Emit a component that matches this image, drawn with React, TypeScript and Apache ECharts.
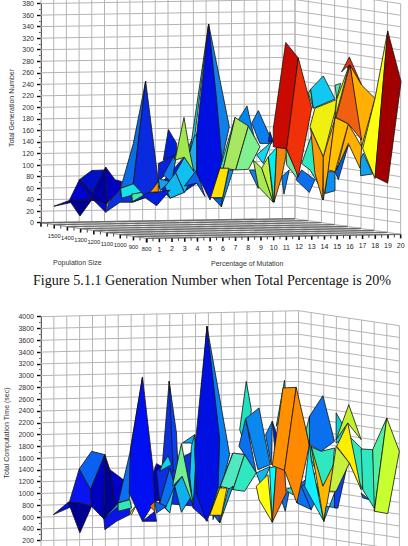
import React, { useEffect, useRef } from "react";
import * as echarts from "echarts";

// Tick labels
const generationTicks = [0, 380, 20];
const timeTicks = [200, 4000, 200];
const populationLabels = ["1500", "1400", "1300", "1200", "1100", "1000", "900", "800"];
const mutationLabels = ["1", "2", "3", "4", "5", "6", "7", "8", "9", "10", "11", "12", "13", "14", "15", "16", "17", "18", "19", "20"];

// Surface facets: [position along the mutation scale, value, ...]
const generationFacets: number[][] = [
  [9.24,59,11.29,111,12.26,65,11.26,50,10.16,39],
  [16.22,199,15.54,175,16.98,128,16.59,163],
  [17.11,191,16.59,169,17.24,134,18.16,134,18.03,146],
  [18.03,154,17.9,137,18.29,137],
  [21.05,221,21.44,195,21.23,228],
  [21.23,228,22.23,251,23.15,211,21.44,195],
  [23.15,235,23.6,238,23.28,212],
  [24.28,284,23.67,258,24.07,267,25.25,235],
  [1.02,25,2.23,35,3.02,71,3.99,36,3.07,35],
  [3.02,71,3.99,87,5.09,88,4.12,49],
  [3.02,71,4.12,49,3.99,36],
  [2.23,35,3.07,8,3.99,36],
  [4.12,49,5.09,93,5.17,29,3.99,36],
  [5.09,93,5.83,71,6.35,68,6.22,53,5.17,29],
  [3.99,36,5.17,29,5.12,14,4.12,36],
  [5.17,16,5.3,30,6.27,56,6.35,39,7.14,46,7.14,32,6.22,32],
  [10.03,158,9.63,105,10.68,114,10.68,134],
  [9.24,99,10.55,114,10.55,105,9.89,82,9.24,68],
  [9.63,79,10.42,111,10.6,105,10.29,66],
  [9.24,73,10.16,68,9.37,52],
  [11.86,140,12.26,151,12.26,82,11.29,111],
  [11.26,179,10.55,105,11.29,110,12.2,68,11.73,117],
  [11.29,110,10.6,83,11.29,49,12.13,82],
  [9.76,59,10.6,83,11.29,49,10.16,39],
  [11.29,60,12.26,65,12.91,42,12.26,88],
  [8.24,242,7.27,134,6.27,56,7.27,64],
  [8.24,242,7.27,64,8.19,40,9.24,68],
  [6.27,56,7.27,64,7.93,49,6.35,39],
  [7.14,46,7.93,49,8.19,40,7.22,32],
  [7.14,32,8.19,40,9.11,26,10.16,53,9.24,50,8.45,49],
  [8.58,49,9.24,68,9.24,50],
  [13.2,341,12.13,151,11.73,120],
  [13.2,341,14.83,163,13.57,39],
  [13.2,341,12.26,151,12.26,82,13.31,36,14.3,91,13.83,209],
  [16.4,88,17.11,56,17.24,88],
  [15.28,179,13.44,42,14.09,91,14.36,91],
  [15.28,179,14.36,91,15.33,88,16.33,164],
  [16.33,164,15.33,88,16.33,89,17.24,128],
  [13.57,39,14.3,40,14.2,24],
  [14.3,40,14.78,88,15.14,88,14.2,24],
  [13.36,40,14.09,91,14.78,91,14.3,40],
  [18.95,76,19.13,46,19.55,88],
  [16.72,105,17.38,91,18.29,32,17.11,59],
  [17.38,91,17.9,111,18.29,32],
  [16.98,114,18.16,137,17.5,99],
  [18.16,139,19.34,125,18.56,127],
  [17.9,111,18.56,127,18.35,32],
  [18.56,127,19.4,125,18.95,76,18.35,32],
  [19.29,125,20.13,85,20.26,71,19.34,97],
  [20.08,71,21.13,49,21.57,71,20.52,88],
  [20.52,99,21.39,154,22.23,49,21.18,88],
  [19.27,309,18.29,160,18.29,128,19.4,125,20.26,282],
  [20.26,282,19.34,125,20.26,76,21.31,195],
  [22.36,47,22.57,85,23.15,85,23.15,52],
  [23.15,85,24.2,131,23.41,71],
  [21.23,160,22.23,111,22.18,36,21.57,82],
  [22.23,111,23.15,177,22.62,88,22.23,36],
  [21.18,163,21.57,195,23.28,210,23.15,189,22.23,111],
  [25.12,105,25.17,78,26.12,81,25.38,117],
  [23.28,88,24.2,168,25.25,128,25.12,91,24.2,134],
  [22.62,88,23.15,179,24.2,168,23.15,85],
  [24.28,270,23.15,177,23.28,210],
  [24.33,270,25.25,235,26.3,212,25.25,128],
  [24.33,270,23.23,179,24.2,168,25.25,140],
  [27.3,329,26.3,212,25.33,125,26.3,73],
  [27.3,329,26.3,76,27.3,65,28.35,241],
];
const generationShades = [
  "#0a20e0",
  "#0088f0","#0a80f0","#0a20d0","#60e8a0","#10c8f0","#50e8a8","#e03010",
  "#0000d0","#0010c8","#0000b8","#000090","#0000a0","#0000c0","#0008d8","#0a30e0",
  "#0020d8","#0a20e0","#1080e8","#10a0f0","#20a8f0","#a0e850","#10c0f0","#10b8f0","#1060e8",
  "#0a6ce8","#0a2ae0","#18e0e8","#40e8b0","#0020e0","#f09010",
  "#20d0e0","#1080e8","#0010e0",
  "#1080e8","#40e8b0","#a8e860","#80f090","#0060e0","#0a90f0","#ffe000",
  "#0a80f0","#a8e850","#c0f040","#10d8f0","#50e8b0","#00f0f0","#f08810","#70e8a0",
  "#0a70f0","#30e8c0","#c80a00","#f03008",
  "#0a90f0","#0060e0","#ff9a00","#ffb000","#f0f010",
  "#10a0f0","#ffb000","#ffc000","#f0f010","#ffb000","#f06010","#ffff10","#a00000",
];

const timeFacets: number[][] = [
  [8.97,1342,12.07,1710,12.07,748,9.22,805],
  [19.87,1088,21.24,1314,20.98,692,19.87,805],
  [23.95,1936,24.99,1710,24.99,1031,23.95,1484],
  [15.94,2869,15.43,2049,16.07,1625,16.33,2388],
  [15.89,2236,15.37,1766,15.81,1625,16.72,1314],
  [15.89,2236,16.93,2417,17.8,1455,16.85,1370],
  [17.96,2190,17.44,1964,17.88,1455],
  [17.96,2190,18.27,1992,18.27,1484],
  [18.91,2886,18.27,2106,19.04,2445],
  [0.96,607,2.12,816,3.02,805],
  [2.12,816,3.02,296,3.93,748,3.02,805],
  [2.2,816,2.97,1382,3.85,1031,3.93,748,3.02,805],
  [2.97,1382,3.93,1681,4.96,1625,3.85,1031],
  [3.93,748,3.85,1031,4.96,1625,4.88,533],
  [4.96,1625,5.35,1370,6.12,805,4.88,533],
  [5.35,1370,6.38,1201,6.25,805,5.74,805],
  [4.88,533,5.99,805,5.99,664],
  [4.88,533,5.87,720,6.9,748,6.9,607,5.87,494,4.96,352],
  [8.71,1314,8.97,1472,9.35,1427,9.48,861,8.84,833],
  [9.95,2869,9.41,1427,8.97,1342,9.22,805,10.26,1370,10.65,1427],
  [9.95,2869,10.52,1992,10.65,1314,10.26,1370],
  [9.41,1455,9.87,1608,10.13,1455,9.22,1342],
  [9.22,805,10,1399,10.39,1088,9.87,664],
  [9.66,720,10.39,1088,10,635],
  [7.88,2943,6.9,1653,5.99,805,6.85,861],
  [5.99,805,6.9,861,7.03,720,5.99,664],
  [6.9,635,7.42,777,7.03,607],
  [7.88,2943,6.95,1710,6.85,975,7.88,494,8.84,833,8.71,1370],
  [7.88,494,8.84,664,8.97,494],
  [8.45,748,8.84,833,8.84,664],
  [8.84,833,9.74,748,8.97,635],
  [10.98,1823,11.94,1964,12.07,1710,11.68,1823],
  [11.68,1766,11.94,1964,12.07,748,11.81,720,11.55,1257],
  [10.96,1257,10.39,1088,10.9,647,11.68,918],
  [10.9,1812,10.21,1088,10.96,1257,11.86,748],
  [12.07,1710,12.07,975,12.97,494,11.81,720],
  [12.89,3802,12.07,1710,12.45,2445],
  [12.89,3802,14.65,1625,13.36,522],
  [12.89,3802,11.94,1710,12.07,975,12.84,494,13.1,607,13.75,1031,13.88,1879],
  [14.91,1653,13.1,607,13.75,1059,13.93,1088],
  [14.91,1653,13.93,1088,14.91,1031,15.81,1625],
  [15.81,1625,14.91,1031,15.81,1003,16.72,1314],
  [13.36,607,13.93,590,13.88,466],
  [14.01,596,14.52,1031,14.91,1088,13.88,466],
  [13.1,596,13.88,1059,14.44,1059,14.01,596],
  [18.66,861,18.97,664,19.3,1031],
  [18.91,1031,19.56,946,19.82,1088],
  [16.72,1314,17.8,1427,17.11,1088],
  [16.72,1088,17.62,1286,17.96,477,16.93,861],
  [17.75,1399,18.27,1427,17.96,477],
  [18.27,1427,18.91,1359,19.04,975,17.96,477],
  [18.79,2756,17.96,1438,18.91,1359,19.82,2767],
  [19.82,2767,18.91,1359,19.87,805,20.85,1795],
  [20.85,2275,21.89,2626,22.79,1851,21.76,1681,20.85,1795],
  [20.59,2049,20.85,2275,20.85,1766],
  [20.21,1088,20.98,692,21.63,975,21.24,1201],
  [20.85,1766,21.76,1681,22.79,1738,22.66,1370,21.89,1088,20.98,1540],
  [20.85,1823,20.98,1540,21.96,494,20.47,1088],
  [20.98,1766,21.96,494,22.79,1484,21.89,1088],
  [21.96,494,22.14,748,23.05,720,22.79,975],
  [22.79,720,23.05,720,23.82,1484,22.79,975],
  [22.92,2332,23.95,1936,22.92,1823],
  [23.9,2473,22.92,1879,23.82,2162,24.86,1879],
  [22.92,1766,22.4,1003,22.92,1003,23.95,1484],
  [23.82,2162,22.97,1766,23.95,1484,24.86,1031],
  [24.86,975,24.99,890,25.5,861],
  [24.86,1721,25.76,1710,26.02,664,24.99,1031],
  [26.85,2247,25.76,1710,25.89,664],
  [26.85,2247,25.89,664,26.93,624,27.83,1681],
];
const timeShades = [
  "#0a30e0","#0a70f0","#30e8c0",
  "#20e0c0","#0a70f0","#0a88f0","#0a80f0","#0020e0","#30e0b0",
  "#0010e0","#000090","#0a14f0","#0a60f0","#0000c0","#000098","#0000c8","#2090f0","#0a14e8",
  "#0000c0","#0a30e0","#0a40f0","#10d0f0","#0a70f0","#10d8f0",
  "#0a70f0","#30e8b8","#b8e840","#0010f0","#0a14e8","#f07010","#0a60f0",
  "#10a8f0","#10c8f0","#10b0f0","#70f090","#0a20f0",
  "#10d0e8","#0a80f0","#0010e0",
  "#20e0d0","#50e8c0","#30e8c0","#0a50e0","#10a0e0","#ffe000",
  "#0a70f0","#30e0c8","#10b8f0","#ffff10","#00ffff","#f07010",
  "#ff9000","#ff8a00",
  "#0a70f0","#30e8c0","#0a70f0","#30e8c0","#10f0ff","#ffb800","#10a0f0","#0a40f0",
  "#10d0d8","#c0f030","#c8f040","#ffee00","#0a60e0","#30e8c0","#50f0a0","#c8ff30",
];

type Segment = { a: number[]; b: number[]; color: string; width: number; drop: number };
type Label = { at: number[]; text: string; size: number };

function App() {
  const ref = useRef<HTMLDivElement>(null);
  useEffect(() => {
    const chart = echarts.init(ref.current!, null, { renderer: "svg" });

    const font = "Liberation Sans";
    const unitsTop = { mut: 0.347, popX: 1.04, popV: 3.4, step: 20, top: 400, shift: 3.5 };
    const unitsBottom = { mut: 5.1, popX: 0.979, popV: 31.8, step: 200, top: 4000, shift: 34 };

    const project = (u: any, m: number, p: number, v: number) => [m + p * u.popX, v + m * u.mut - p * u.popV];

    const frame = (u: any, withFloor: boolean) => {
      const segs: Segment[] = [];
      const wall = "#b4b4b4";
      const add = (a: number[], b: number[], color = wall, width = 1, drop = 0) =>
        segs.push({ a, b, color, width, drop });
      for (let m = 0; m <= 20; m++) add(project(u, m, 0, 0), project(u, m, 0, u.top));
      for (let p = 0; p <= 8; p++) add(project(u, 20, p, 0), project(u, 20, p, u.top));
      for (let v = 0; v <= u.top; v += u.step) {
        add(project(u, 0, 0, v), project(u, 20, 0, v));
        add(project(u, 20, 0, v), project(u, 20, 8, v));
      }
      if (withFloor) {
        for (let m = 0; m <= 20; m++) add(project(u, m, 0, 0), project(u, m, 8, 0), "#c4c4c4", 0.7);
        for (let p = 0; p <= 8; p += 1) add(project(u, 0, p, 0), project(u, 20, p, 0), "#6a6a6a", 1.4);
        for (let m = 0; m <= 20; m += 0.5) {
          const major = Number.isInteger(m);
          const q = project(u, m, 8, 0);
          add(q, q, "#111", major ? 1.6 : 0.8, major ? 4 : 3);
        }
        for (let p = 0; p <= 8; p += 0.5) {
          const major = Number.isInteger(p);
          const q = project(u, 0, p, 0);
          add(q, q, "#111", major ? 1.6 : 0.8, major ? 4 : 3);
        }
        add(project(u, 0, 0, 0), project(u, 0, 8, 0), "#777", 0.7);
        add(project(u, 0, 8, 0), project(u, 20, 8, 0), "#777", 0.7);
      }
      return segs;
    };

    const frameSeries = (segs: Segment[], idx: number) => ({
      type: "custom",
      xAxisIndex: idx,
      yAxisIndex: idx,
      silent: true,
      clip: false,
      data: segs.map((_, i) => [i]),
      renderItem: (_: any, api: any) => {
        const s = segs[api.value(0)];
        const a = api.coord(s.a);
        const b = api.coord(s.b);
        return {
          type: "line",
          shape: { x1: a[0], y1: a[1], x2: b[0], y2: b[1] + s.drop },
          style: { stroke: s.color, lineWidth: s.width, fill: "none" },
        };
      },
    });

    const facetSeries = (facets: number[][], shades: string[], idx: number, shift: number) => ({
      type: "custom",
      xAxisIndex: idx,
      yAxisIndex: idx,
      silent: true,
      clip: false,
      data: facets.map((_, i) => [i]),
      renderItem: (_: any, api: any) => {
        const i = api.value(0);
        const f = facets[i];
        const points: number[][] = [];
        for (let k = 0; k < f.length; k += 2) points.push(api.coord([f[k], f[k + 1] + shift]));
        return {
          type: "polygon",
          shape: { points },
          style: { fill: shades[i], stroke: "#14140f", lineWidth: 0.8, lineJoin: "round" },
        };
      },
    });

    const labels: Label[] = [
      ...populationLabels.map((t, i) => ({ at: project(unitsTop, 0, i + 1, 0), text: t, size: 5.8 })),
      ...mutationLabels.map((t, i) => ({ at: project(unitsTop, i + 1, 8, 0), text: t, size: 7 })),
    ];
    const labelSeries = {
      type: "custom",
      xAxisIndex: 0,
      yAxisIndex: 0,
      silent: true,
      clip: false,
      data: labels.map((_, i) => [i]),
      renderItem: (_: any, api: any) => {
        const l = labels[api.value(0)];
        const c = api.coord(l.at);
        return {
          type: "text",
          x: c[0],
          y: c[1] + 11,
          style: { text: l.text, font: `${l.size}px "${font}"`, fill: "#222", align: "center", verticalAlign: "middle" },
        };
      },
    };

    const yAxis = (ticks: number[], index: number) => ({
      type: "value",
      gridIndex: index,
      min: ticks[0],
      max: ticks[1],
      interval: ticks[2],
      axisLine: { show: true, lineStyle: { color: "#111", width: 1 } },
      axisTick: { show: true, length: 4, lineStyle: { color: "#111", width: 1.4 } },
      minorTick: { show: true, splitNumber: 2, length: 2, lineStyle: { color: "#111", width: 0.7 } },
      splitLine: { show: false },
      axisLabel: { fontSize: 7, fontFamily: font, color: "#333", margin: 7, padding: [0, 0, 3, 0], formatter: (v: number) => String(v) },
    });
    const xAxis = (index: number) => ({ type: "value", gridIndex: index, min: 0, max: 28.5, show: false });

    const text = (x: number, y: number, t: string, size: number, family: string, color: string, rotation = 0, align = "left") => ({
      type: "text",
      x,
      y,
      rotation,
      silent: true,
      style: { text: t, font: `${size}px "${family}"`, fill: color, align, verticalAlign: "middle" },
    });

    chart.setOption({
      animation: false,
      backgroundColor: "#ffffff",
      grid: [
        { left: 41, top: 3.55, width: 361.95, height: 219.15 },
        { left: 41, top: 316.7, width: 367.65, height: 223.9 },
      ],
      xAxis: [xAxis(0), xAxis(1)],
      yAxis: [yAxis(generationTicks, 0), yAxis(timeTicks, 1)],
      series: [
        frameSeries(frame(unitsTop, true), 0),
        frameSeries(frame(unitsBottom, false), 1),
        labelSeries,
        facetSeries(generationFacets, generationShades, 0, unitsTop.shift),
        facetSeries(timeFacets, timeShades, 1, unitsBottom.shift),
      ],
      graphic: [
        text(11, 108, "Total Generation Number", 7, font, "#333", Math.PI / 2, "center"),
        text(6, 433, "Total Computation Time (sec)", 7, font, "#333", Math.PI / 2, "center"),
        text(53, 262, "Population Size", 7, font, "#333"),
        text(211, 263.5, "Percentage of Mutation", 7, font, "#333"),
        text(33, 280, "Figure 5.1.1 Generation Number when Total Percentage is 20%", 14.1, "Liberation Serif", "#111"),
      ],
    });
    return () => chart.dispose();
  }, []);
  return <div ref={ref} style={{ position: "absolute", left: 0, top: 0, width: 408, height: 546 }} />;
}

export default App;
